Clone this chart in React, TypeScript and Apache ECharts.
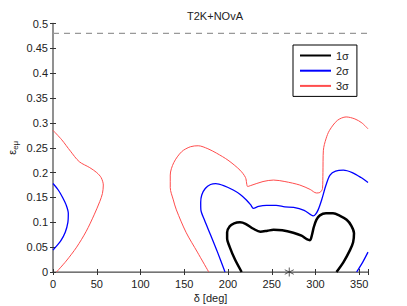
import React, { useEffect, useRef } from "react";
import * as echarts from "echarts";

const xTickValues = [0, 50, 100, 150, 200, 250, 300, 350];
const yTickValues = [0, 0.05, 0.1, 0.15, 0.2, 0.25, 0.3, 0.35, 0.4, 0.45, 0.5];

const bound = [[0, 0.48], [360, 0.48]];
const bestFit = [[270, 0]];

const sigma1 = [[215.6,0],[208,0.025],[202,0.05],[199,0.068],[199,0.08],[202,0.092],[207,0.098],[213.7,0.1],[220,0.097],[229,0.087],[237,0.081],[245,0.083],[252,0.085],[262,0.084],[274.6,0.079],[284,0.073],[290,0.066],[293.7,0.064],[296,0.075],[298,0.09],[301,0.105],[305,0.114],[312,0.118],[320,0.118],[328,0.113],[335.6,0.105],[341,0.093],[344,0.078],[343,0.06],[339.4,0.044],[332,0.02],[324,0]];

const sigma2Main = [[196.6,0],[188,0.04],[180,0.075],[173,0.105],[169,0.125],[168.8,0.14],[170,0.155],[174,0.168],[180,0.176],[186,0.178],[195,0.174],[206,0.165],[214,0.156],[221,0.145],[226,0.135],[229,0.128],[235,0.132],[244,0.134],[255,0.134],[265,0.131],[275,0.13],[287,0.124],[294,0.116],[297.5,0.113],[300,0.116],[303,0.125],[307,0.145],[312,0.175],[316.6,0.195],[323,0.203],[331.8,0.205],[342,0.2],[352,0.19],[360,0.18]];
const sigma2Left = [[0,0.178],[6,0.165],[11,0.15],[15,0.135],[17.5,0.118],[17,0.1],[14,0.08],[9,0.063],[4,0.052],[0,0.044]];
const sigma2Corner = [[347,0],[354,0.02],[360,0.04]];

const sigma3Main = [[178,0],[165,0.04],[152,0.08],[141,0.125],[137.5,0.145],[134,0.17],[134,0.195],[138,0.22],[147,0.242],[157,0.252],[166,0.254],[177,0.248],[187,0.239],[200,0.225],[213.7,0.205],[220,0.19],[222.5,0.172],[226,0.174],[240,0.182],[252,0.185],[265,0.182],[282,0.175],[294,0.166],[301,0.159],[305,0.16],[308,0.168],[308.5,0.2],[309,0.245],[312,0.268],[316,0.285],[325,0.305],[335,0.312],[345,0.308],[353,0.3],[360,0.288]];
const sigma3Left = [[0,0.285],[10,0.266],[20,0.243],[30,0.222],[42,0.21],[50,0.2],[55,0.19],[57.5,0.175],[56.5,0.158],[53.5,0.142],[47,0.115],[38,0.082],[27,0.05],[15,0.022],[4,0]];

const FONT = "Liberation Sans, Arial, Helvetica, sans-serif";

export default function App() {
  const ref = useRef<HTMLDivElement>(null);
  useEffect(() => {
    if (!ref.current) return;
    const chart = echarts.init(ref.current, null, { renderer: "svg" });
    const line = (name: string, data: number[][], color: string, width: number) => ({
      name,
      type: "line",
      data,
      symbol: "none",
      showSymbol: false,
      smooth: 0.3,
      lineStyle: { color, width },
      itemStyle: { color },
      z: 3,
    });
    const grayAxis = { lineStyle: { color: "#8a8a8a", width: 1.5 } };
    chart.setOption({
      animation: false,
      backgroundColor: "#fff",
      textStyle: { fontFamily: FONT },
      title: {
        text: "T2K+NOvA",
        left: 210,
        textAlign: "center",
        top: 5,
        textStyle: { fontSize: 11, fontWeight: "normal", color: "#222", fontFamily: FONT },
      },
      grid: { left: 53, right: 39, top: 23.5, bottom: 34, containLabel: false, outerBoundsMode: "none" },
      legend: {
        data: ["1σ", "2σ", "3σ"],
        orient: "vertical",
        left: 293,
        top: 45,
        itemWidth: 31,
        itemHeight: 10,
        itemGap: 4.2,
        padding: [5, 8, 5, 6],
        backgroundColor: "#fff",
        borderColor: "#000",
        borderWidth: 1,
        borderRadius: 0,
        itemStyle: { opacity: 0 },
        textStyle: { fontSize: 11, color: "#222", fontFamily: FONT },
      },
      xAxis: [
        {
          type: "value",
          min: 0,
          max: 360,
          interval: 50,
          position: "bottom",
          name: "δ [deg]",
          nameLocation: "middle",
          nameGap: 20,
          nameMoveOverlap: false,
          nameTextStyle: { fontSize: 11, color: "#222", fontFamily: FONT },
          axisLine: { lineStyle: { color: "#333", width: 1.2 } },
          axisTick: { inside: true, length: 3, lineStyle: { color: "#333" } },
          axisLabel: {
            fontSize: 11,
            color: "#222",
            margin: 6,
            formatter: (v: number) => (xTickValues.includes(v) ? String(v) : ""),
          },
          splitLine: { show: false },
        },
        {
          type: "value",
          min: 0,
          max: 360,
          interval: 50,
          position: "top",
          axisLine: grayAxis,
          axisTick: { inside: true, length: 3, lineStyle: { color: "#333" } },
          axisLabel: { show: false },
          splitLine: { show: false },
        },
      ],
      yAxis: [
        {
          type: "value",
          min: 0,
          max: 0.5,
          interval: 0.05,
          position: "left",
          name: "{a|ε}{b|eμ}",
          nameLocation: "middle",
          nameRotate: 90,
          nameGap: 34,
          nameMoveOverlap: false,
          nameTextStyle: {
            color: "#222",
            rich: {
              a: { fontSize: 11, color: "#222", fontFamily: FONT },
              b: { fontSize: 8, color: "#222", fontFamily: FONT, padding: [6, 0, 0, 0] },
            },
          },
          axisLine: grayAxis,
          axisTick: { inside: true, length: 3, lineStyle: { color: "#333" } },
          axisLabel: {
            fontSize: 11,
            color: "#222",
            margin: 5,
            formatter: (v: number) => {
              const r = Math.round(v * 100) / 100;
              return yTickValues.some((t) => Math.abs(t - r) < 1e-9) ? String(r) : "";
            },
          },
          splitLine: { show: false },
        },
        {
          type: "value",
          min: 0,
          max: 0.5,
          interval: 0.05,
          position: "right",
          axisLine: grayAxis,
          axisTick: { inside: true, length: 3, lineStyle: { color: "#333" } },
          axisLabel: { show: false },
          splitLine: { show: false },
        },
      ],
      series: [
        {
          name: "bound",
          type: "line",
          data: bound,
          symbol: "none",
          lineStyle: { color: "#999", width: 1.2, type: [6, 5] },
          z: 2,
        },
        line("1σ", sigma1, "#000", 2.5),
        line("2σ", sigma2Main, "#0000ff", 1.3),
        line("2σ", sigma2Left, "#0000ff", 1.3),
        line("2σ", sigma2Corner, "#0000ff", 1.3),
        line("3σ", sigma3Main, "#ff4d4d", 1),
        line("3σ", sigma3Left, "#ff4d4d", 1),
        {
          name: "best",
          type: "scatter",
          data: bestFit,
          symbol: "path://M0,-5L0,5M-4.33,-2.5L4.33,2.5M-4.33,2.5L4.33,-2.5",
          symbolSize: 9,
          itemStyle: { color: "none", borderColor: "#333", borderWidth: 1 },
          z: 5,
        },
      ],
    });
    return () => chart.dispose();
  }, []);
  return <div ref={ref} style={{ width: 407, height: 306, position: "absolute", left: 0, top: 0 }} />;
}
